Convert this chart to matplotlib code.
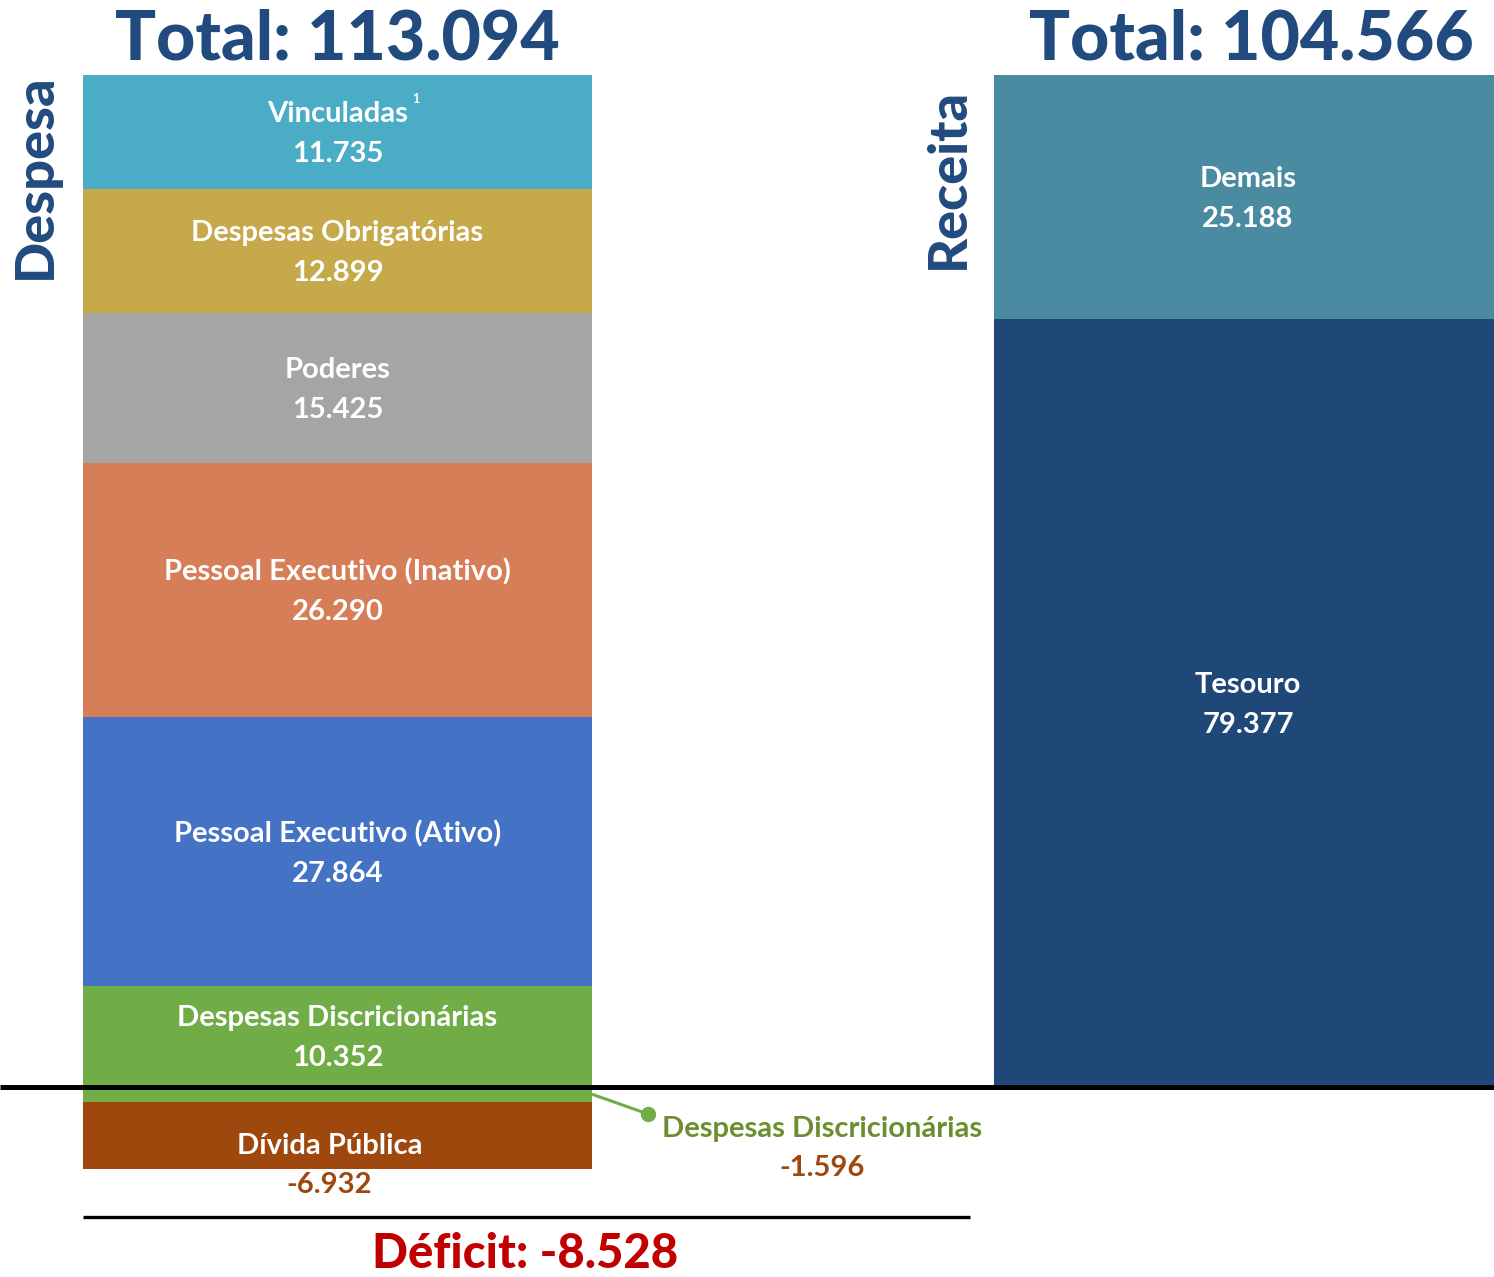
import matplotlib
matplotlib.use("Agg")
import matplotlib.pyplot as plt
import numpy as np

# Despesa (bottom to top, above the deficit line)
desp_labels = ["Despesas Discricionárias", "Pessoal Executivo (Ativo)",
               "Pessoal Executivo (Inativo)", "Poderes",
               "Despesas Obrigatórias", "Vinculadas"]
desp_values = [10.352, 27.864, 26.290, 15.425, 12.899, 11.735]
desp_colors = ["#70AD47", "#4472C4", "#D57E57", "#A5A5A5", "#C5A94B", "#4BACC6"]

# Portion of spending not covered by revenue
divida_label = "Dívida Pública"
divida_value = -6.932
discr_neg_label = "Despesas Discricionárias"
discr_neg_value = -1.596

# Receita (bottom to top)
rec_labels = ["Tesouro", "Demais"]
rec_values = [79.377, 25.188]
rec_colors = ["#1F4879", "#4A8BA2"]

total_despesa = 113.094
total_receita = 104.566
deficit = -8.528

TITLE_BLUE = "#214A7E"
BROWN = "#9E480E"
GREEN_TXT = "#6B8E2F"
RED = "#C00000"

plt.rcParams["font.family"] = ["Lato", "DejaVu Sans"]

W, H = 1494, 1277
fig = plt.figure(figsize=(W / 100, H / 100), dpi=100)
ax = fig.add_axes([0, 0, 1, 1])

# vertical layout: value 0 sits at pixel row 1169, total at row 75
scale = (1169 - 75) / total_despesa
ax.set_xlim(0, W)
ax.set_ylim(-(H - 1169) / scale, 1169 / scale)
ax.axis("off")


def ypx(p):
    """Convert a pixel row into data units."""
    return (1169 - p) / scale


left_x, left_w = 337.5, 509
right_x, right_w = 1244, 500

base = -(divida_value + discr_neg_value)  # revenue baseline

# Dívida Pública block at the bottom of the spending stack
ax.bar(left_x, -divida_value, width=left_w, bottom=0, color=BROWN, linewidth=0)
# discretionary spending below the baseline
ax.bar(left_x, -discr_neg_value, width=left_w, bottom=-divida_value,
       color=desp_colors[0], linewidth=0)

FS = 21
lbl_kw = dict(ha="center", va="center", color="white", fontsize=FS,
              fontweight="bold")
dy = 20 / scale
bottom = base
for lab, val, col in zip(desp_labels, desp_values, desp_colors):
    ax.bar(left_x, val, width=left_w, bottom=bottom, color=col, linewidth=0)
    mid = bottom + val / 2
    ax.text(left_x, mid + dy - 0.2, lab, **lbl_kw)
    ax.text(left_x, mid - dy - 0.2, f"{val:.3f}", **lbl_kw)
    bottom += val

# footnote marker on Vinculadas
ax.text(416, ypx(99), "1", ha="center", va="center", color="white",
        fontsize=9, fontweight="bold")

bottom = base
for lab, val, col in zip(rec_labels, rec_values, rec_colors):
    ax.bar(right_x, val, width=right_w, bottom=bottom, color=col, linewidth=0)
    mid = bottom + val / 2
    ax.text(right_x + 4, mid + dy - 0.2, lab, **lbl_kw)
    ax.text(right_x + 4, mid - dy - 0.2, f"{val:.3f}", **lbl_kw)
    bottom += val

# Dívida Pública labels
ax.text(left_x - 8, ypx(1146), divida_label, **lbl_kw)
ax.text(left_x - 8, ypx(1185), f"{divida_value:.3f}", ha="center", va="center",
        color=BROWN, fontsize=FS, fontweight="bold")

# callout for the negative discretionary part
y_mid = -divida_value - discr_neg_value / 2
ax.plot([592, 648], [y_mid, ypx(1114)], color="#70AD47", lw=2.2,
        solid_capstyle="butt")
ax.plot([648], [ypx(1114)], marker="o", ms=10, color="#70AD47")
ax.text(822, ypx(1129), discr_neg_label, ha="center", va="center",
        color=GREEN_TXT, fontsize=FS, fontweight="bold")
ax.text(822, ypx(1168), f"{discr_neg_value:.3f}", ha="center", va="center",
        color=BROWN, fontsize=FS, fontweight="bold")

# baseline of revenue and deficit line
ax.plot([0, W], [base, base], color="black", lw=3.6, solid_capstyle="butt")
ax.plot([83, 970], [ypx(1217), ypx(1217)], color="black", lw=2.4,
        solid_capstyle="butt")

ax.text(left_x, ypx(40), f"Total: {total_despesa:.3f}", ha="center",
        va="center", color=TITLE_BLUE, fontsize=49, fontweight="black")
ax.text(1251, ypx(40), f"Total: {total_receita:.3f}", ha="center",
        va="center", color=TITLE_BLUE, fontsize=49, fontweight="black")

ax.text(35, ypx(176), "Despesa", rotation=90, ha="center", va="center",
        color=TITLE_BLUE, fontsize=39, fontweight="black")
ax.text(948, ypx(178), "Receita", rotation=90, ha="center", va="center",
        color=TITLE_BLUE, fontsize=39, fontweight="black")

ax.text(525, ypx(1254), f"Déficit: {deficit:.3f}", ha="center", va="center",
        color=RED, fontsize=34, fontweight="black")

fig.savefig("out.png", dpi=100)
